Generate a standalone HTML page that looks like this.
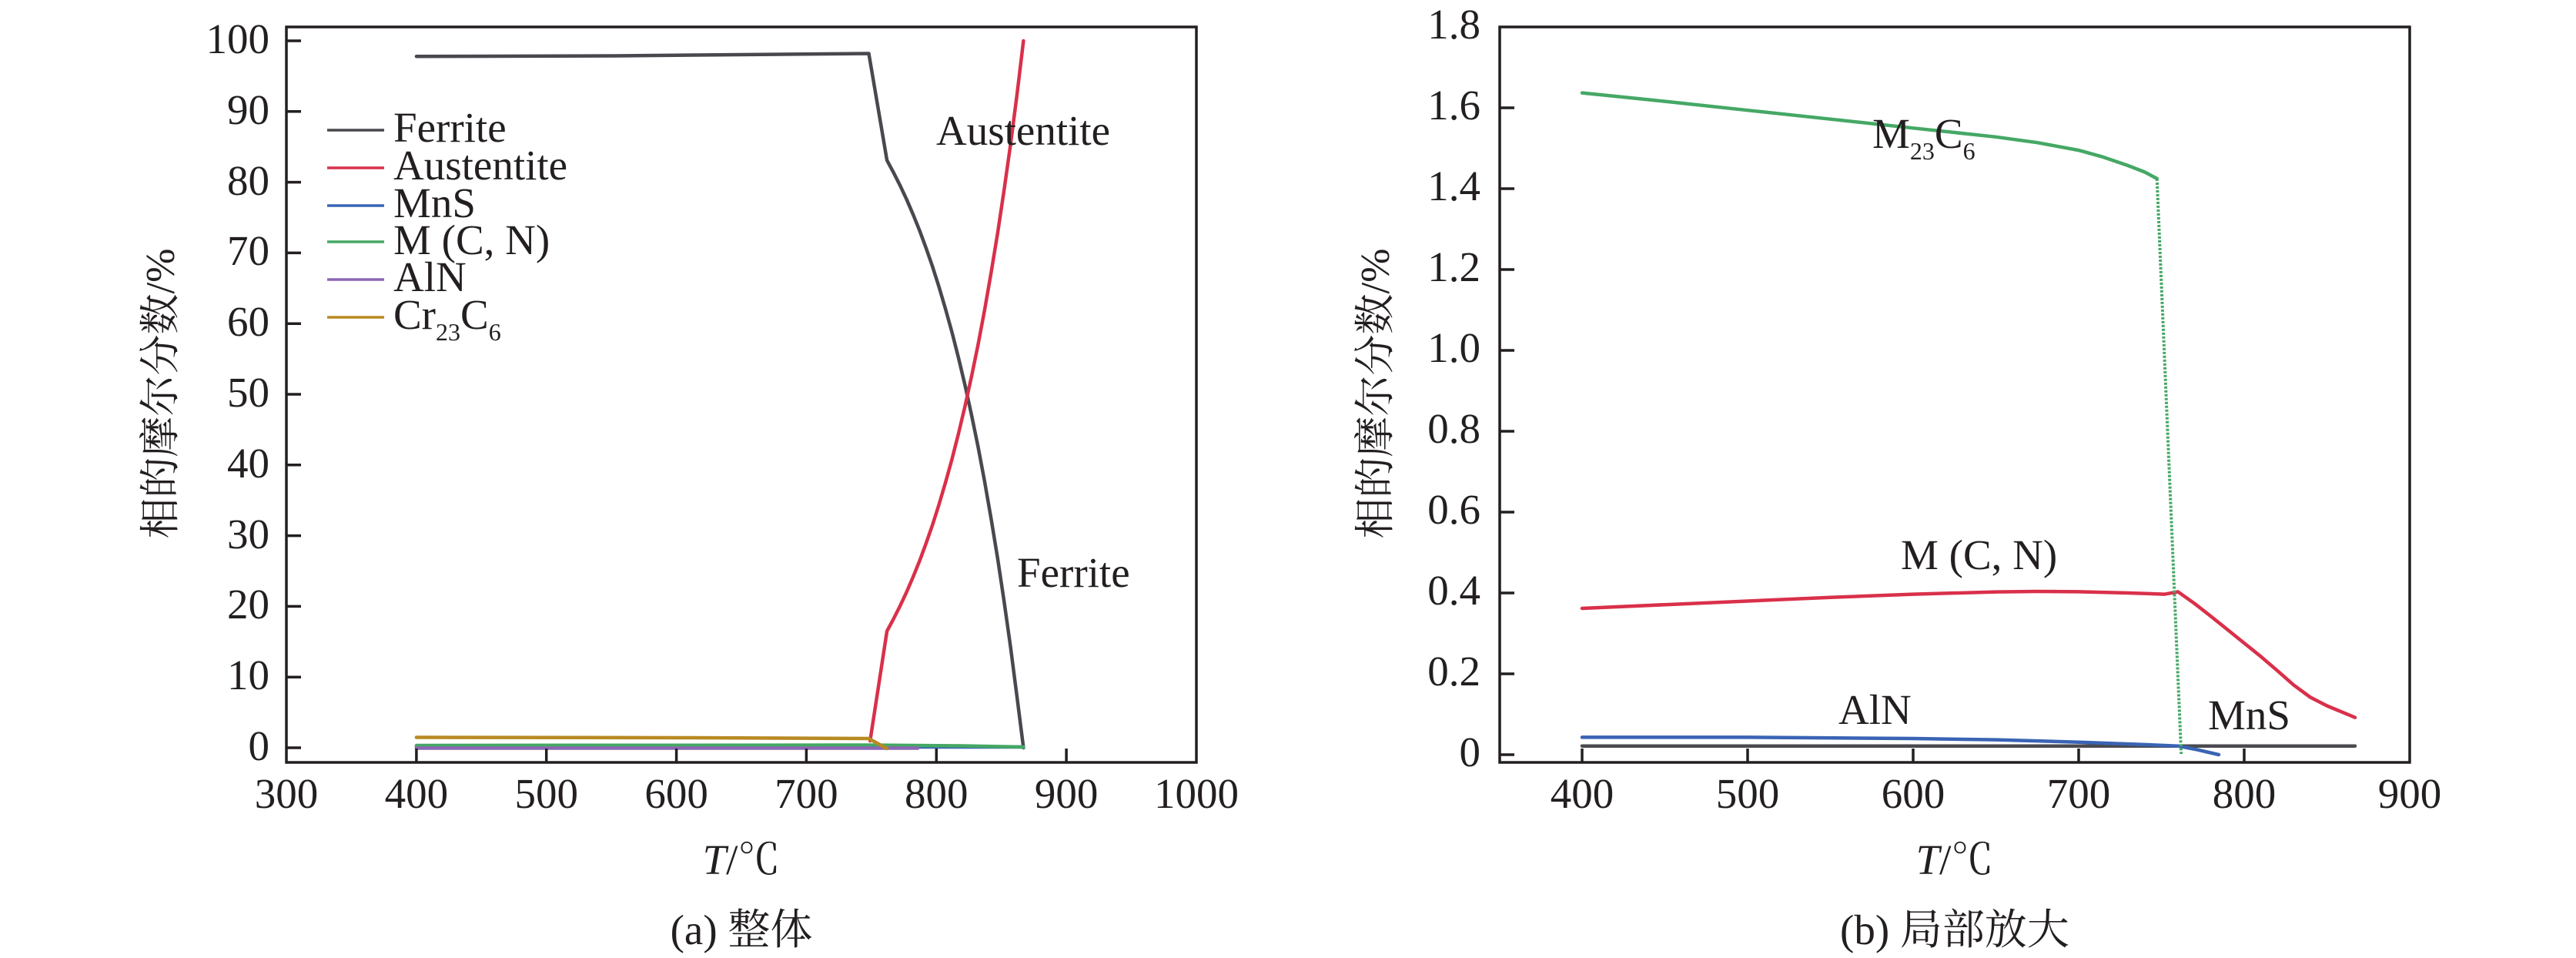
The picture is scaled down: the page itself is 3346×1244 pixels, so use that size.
<!DOCTYPE html>
<html>
<head>
<meta charset="utf-8">
<style>
html,body{margin:0;padding:0;background:#fff;}
svg{display:block;}
text{font-family:"Liberation Serif","Noto Serif CJK SC",serif;fill:#231f20;}
</style>
</head>
<body>
<svg width="3346" height="1244" viewBox="0 0 3346 1244" xmlns="http://www.w3.org/2000/svg">
<rect x="0" y="0" width="3346" height="1244" fill="#fff"/>

<!-- ================= LEFT PLOT ================= -->
<g fill="none" stroke-linejoin="round" stroke-linecap="round">
  <!-- Ferrite -->
  <polyline stroke="#48484e" stroke-width="4.5" points="540.9,73.2 800,72.5 1128.5,69.5 1152.1,208.2 1160.5,223.8 1169,240.6 1177.5,258.7 1185.9,278.2 1194.4,299.2 1202.8,321.9 1211.3,346.3 1219.7,372.7 1228.1,401.1 1236.6,431.7 1245,464.7 1253.5,500.3 1261.9,538.7 1270.4,580 1278.8,624.5 1287.2,672.5 1295.7,724.1 1304.1,780 1312.6,840.1 1321,904.9 1329.4,971"/>
  <!-- Austentite -->
  <polyline stroke="#d9304a" stroke-width="4.5" points="1130.2,962 1152.1,819.5 1160.5,803.9 1169,787.1 1177.5,769 1185.9,749.5 1194.4,728.5 1202.8,705.8 1211.3,681.4 1219.7,655 1228.1,626.6 1236.6,596 1245,563 1253.5,527.4 1261.9,489 1270.4,447.7 1278.8,403.2 1287.2,355.2 1295.7,303.6 1304.1,247.7 1312.6,187.6 1321,122.8 1329.4,53"/>
  <!-- MnS -->
  <polyline stroke="#3a64b4" stroke-width="4.5" points="540.9,970 1329.4,970"/>
  <!-- M(C,N) -->
  <polyline stroke="#45a865" stroke-width="4.5" points="540.9,968 1128.5,967.5 1250,968.5 1329.4,970"/>
  <!-- AlN -->
  <polyline stroke="#8b67b5" stroke-width="4.5" points="540.9,971.5 1192,971.5"/>
  <!-- Cr23C6 -->
  <polyline stroke="#b88a22" stroke-width="4.5" points="540.9,957.5 900,958 1128.5,959 1152,972"/>
</g>

<!-- axes box left -->
<rect x="372" y="35" width="1182" height="955" fill="none" stroke="#231f20" stroke-width="3.5"/>
<g stroke="#231f20" stroke-width="3.5">
  <line x1="372" y1="971" x2="391" y2="971"/>
  <line x1="372" y1="879.2" x2="391" y2="879.2"/>
  <line x1="372" y1="787.4" x2="391" y2="787.4"/>
  <line x1="372" y1="695.6" x2="391" y2="695.6"/>
  <line x1="372" y1="603.8" x2="391" y2="603.8"/>
  <line x1="372" y1="512" x2="391" y2="512"/>
  <line x1="372" y1="420.2" x2="391" y2="420.2"/>
  <line x1="372" y1="328.4" x2="391" y2="328.4"/>
  <line x1="372" y1="236.6" x2="391" y2="236.6"/>
  <line x1="372" y1="144.8" x2="391" y2="144.8"/>
  <line x1="372" y1="53" x2="391" y2="53"/>
  <line x1="540.9" y1="990" x2="540.9" y2="972"/>
  <line x1="709.7" y1="990" x2="709.7" y2="972"/>
  <line x1="878.6" y1="990" x2="878.6" y2="972"/>
  <line x1="1047.4" y1="990" x2="1047.4" y2="972"/>
  <line x1="1216.3" y1="990" x2="1216.3" y2="972"/>
  <line x1="1385.1" y1="990" x2="1385.1" y2="972"/>
</g>
<g font-size="55" text-anchor="end">
  <text x="350" y="987">0</text>
  <text x="350" y="895">10</text>
  <text x="350" y="803">20</text>
  <text x="350" y="712">30</text>
  <text x="350" y="620">40</text>
  <text x="350" y="528">50</text>
  <text x="350" y="436">60</text>
  <text x="350" y="344">70</text>
  <text x="350" y="253">80</text>
  <text x="350" y="161">90</text>
  <text x="350" y="69">100</text>
</g>
<g font-size="55" text-anchor="middle">
  <text x="372" y="1049">300</text>
  <text x="540.9" y="1049">400</text>
  <text x="709.7" y="1049">500</text>
  <text x="878.6" y="1049">600</text>
  <text x="1047.4" y="1049">700</text>
  <text x="1216.3" y="1049">800</text>
  <text x="1385.1" y="1049">900</text>
  <text x="1554" y="1049">1000</text>
</g>

<!-- legend -->
<g stroke-width="3.5">
  <line x1="425" y1="169" x2="499" y2="169" stroke="#48484e"/>
  <line x1="425" y1="218" x2="499" y2="218" stroke="#d9304a"/>
  <line x1="425" y1="267" x2="499" y2="267" stroke="#3a64b4"/>
  <line x1="425" y1="314" x2="499" y2="314" stroke="#45a865"/>
  <line x1="425" y1="363" x2="499" y2="363" stroke="#8b67b5"/>
  <line x1="425" y1="412" x2="499" y2="412" stroke="#b88a22"/>
</g>
<g font-size="55">
  <text x="511" y="184">Ferrite</text>
  <text x="511" y="233">Austentite</text>
  <text x="511" y="282">MnS</text>
  <text x="511" y="330">M (C, N)</text>
  <text x="511" y="378">AlN</text>
  <text x="511" y="427">Cr<tspan font-size="32" dy="15">23</tspan><tspan dy="-15">C</tspan><tspan font-size="32" dy="15">6</tspan></text>
</g>

<g font-size="55">
  <text x="1216" y="188">Austentite</text>
  <text x="1321" y="762">Ferrite</text>
</g>

<text x="963" y="1135" font-size="55" text-anchor="middle"><tspan font-style="italic">T</tspan>/℃</text>
<text transform="translate(226,511) rotate(-90)" font-size="53" text-anchor="middle">相的摩尔分数/%</text>
<text x="963" y="1226" font-size="55" text-anchor="middle">(a) 整体</text>

<!-- ================= RIGHT PLOT ================= -->
<g fill="none" stroke-linejoin="round" stroke-linecap="round">
  <polyline stroke="#4a4a4f" stroke-width="4.5" points="2055,968.7 3059,968.7"/>
  <polyline stroke="#3a64b4" stroke-width="4.5" points="2055,957.4 2270,957.4 2485,959 2592.5,960.6 2700,963.7 2786,966.9 2829,968.7 2854.8,973.7 2882,980"/>
  <polyline stroke="#d9304a" stroke-width="4.5" points="2055,790 2162.5,785.2 2270,780.5 2377.5,775.8 2485,771.6 2592.5,768.6 2646,768 2700,768.4 2764.5,770 2811.8,771.6 2829,768.4 2850.5,783.7 2872,800.5 2893.5,817.8 2915,835.1 2936.5,852.4 2958,870.8 2979.5,889.7 3001,905.5 3022.5,916.5 3044,925.4 3059,931.7"/>
  <polyline stroke="#45a865" stroke-width="4.5" points="2055,120.6 2162.5,131.6 2270,143.2 2377.5,154.7 2485,166.3 2592.5,177.8 2646.3,185.2 2700,195.1 2732.3,204.1 2764.5,215.1 2786,223.5 2801.7,231.9"/>
  <line x1="2801.7" y1="232" x2="2833.2" y2="979" stroke="#45a865" stroke-width="4" stroke-dasharray="3 2" stroke-linecap="butt"/>
</g>

<rect x="1948" y="35" width="1182" height="955" fill="none" stroke="#231f20" stroke-width="3.5"/>
<g stroke="#231f20" stroke-width="3.5">
  <line x1="1948" y1="980" x2="1967" y2="980"/>
  <line x1="1948" y1="875" x2="1967" y2="875"/>
  <line x1="1948" y1="770" x2="1967" y2="770"/>
  <line x1="1948" y1="665" x2="1967" y2="665"/>
  <line x1="1948" y1="560" x2="1967" y2="560"/>
  <line x1="1948" y1="455" x2="1967" y2="455"/>
  <line x1="1948" y1="350" x2="1967" y2="350"/>
  <line x1="1948" y1="245" x2="1967" y2="245"/>
  <line x1="1948" y1="140" x2="1967" y2="140"/>
  <line x1="2055" y1="990" x2="2055" y2="972"/>
  <line x1="2270" y1="990" x2="2270" y2="972"/>
  <line x1="2485" y1="990" x2="2485" y2="972"/>
  <line x1="2700" y1="990" x2="2700" y2="972"/>
  <line x1="2915" y1="990" x2="2915" y2="972"/>
</g>
<g font-size="55" text-anchor="end">
  <text x="1923" y="995">0</text>
  <text x="1923" y="890">0.2</text>
  <text x="1923" y="785">0.4</text>
  <text x="1923" y="680">0.6</text>
  <text x="1923" y="575">0.8</text>
  <text x="1923" y="470">1.0</text>
  <text x="1923" y="365">1.2</text>
  <text x="1923" y="260">1.4</text>
  <text x="1923" y="155">1.6</text>
  <text x="1923" y="50">1.8</text>
</g>
<g font-size="55" text-anchor="middle">
  <text x="2055" y="1049">400</text>
  <text x="2270" y="1049">500</text>
  <text x="2485" y="1049">600</text>
  <text x="2700" y="1049">700</text>
  <text x="2915" y="1049">800</text>
  <text x="3130" y="1049">900</text>
</g>

<g font-size="55">
  <text x="2432" y="192">M<tspan font-size="32" dy="15">23</tspan><tspan dy="-15">C</tspan><tspan font-size="32" dy="15">6</tspan></text>
  <text x="2469" y="739">M (C, N)</text>
  <text x="2388" y="940">AlN</text>
  <text x="2868" y="947">MnS</text>
</g>

<text x="2539" y="1135" font-size="55" text-anchor="middle"><tspan font-style="italic">T</tspan>/℃</text>
<text transform="translate(1804,511) rotate(-90)" font-size="53" text-anchor="middle">相的摩尔分数/%</text>
<text x="2539" y="1226" font-size="55" text-anchor="middle">(b) 局部放大</text>
</svg>
</body>
</html>
